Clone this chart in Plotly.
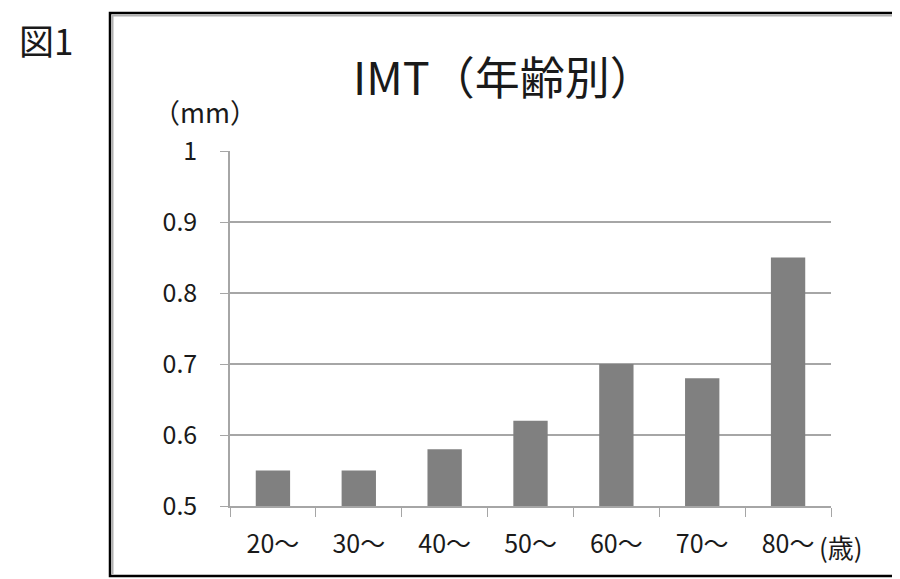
import plotly.graph_objects as go

categories = ["20～", "30～", "40～", "50～", "60～", "70～", "80～"]
imt_values = [0.55, 0.55, 0.58, 0.62, 0.70, 0.68, 0.85]
y_ticks = [0.5, 0.6, 0.7, 0.8, 0.9, 1.0]
y_tick_labels = ["0.5", "0.6", "0.7", "0.8", "0.9", "1"]

FONT = "Noto Sans CJK JP"
GRID = "#a6a6a6"
TXT = "#1a1a1a"

fig = go.Figure(go.Bar(x=categories, y=imt_values, marker_color="#808080",
                       marker_line_width=0, width=0.4))

OFF = 8  # page body margin
W, H = 900 - OFF, 579 - OFF
L, R, T, B = 230, 831, 151, 506  # target page coordinates of plot area

fig.update_layout(
    width=W, height=H,
    margin=dict(l=L - OFF, r=W - (R - OFF), t=T - OFF, b=H - (B - OFF), pad=0),
    paper_bgcolor="white", plot_bgcolor="white",
    font=dict(family=FONT, color=TXT),
    showlegend=False,
)
fig.update_xaxes(
    type="category", tickson="boundaries", ticks="outside", ticklen=9,
    tickcolor=GRID, showline=True, linecolor=GRID, linewidth=1.5,
    showgrid=False, tickfont=dict(size=25, family=FONT, color=TXT), ticklabelstandoff=15,
)
fig.update_yaxes(
    range=[0.5, 1.0], tickvals=y_ticks, ticktext=y_tick_labels,
    ticks="outside", ticklen=8, tickcolor=GRID, showline=True, linecolor=GRID,
    linewidth=1.5, showgrid=True, gridcolor=GRID, gridwidth=1.5,
    tickfont=dict(size=25, family=FONT, color=TXT), ticklabelstandoff=18, zeroline=False,
)

def px(x):
    return (x - L) / (R - L)

def py(y):
    return (B - y) / (B - T)

# outer frame
fig.add_shape(type="rect", xref="paper", yref="paper",
              x0=px(110), x1=px(910), y0=py(576), y1=py(13),
              line=dict(color="black", width=2.5), fillcolor="rgba(0,0,0,0)")
fig.add_shape(type="line", xref="paper", yref="paper",
              x0=px(112), x1=px(910), y0=py(15.5), y1=py(15.5),
              line=dict(color="#b0b0b0", width=2))
fig.add_shape(type="line", xref="paper", yref="paper",
              x0=px(112.5), x1=px(112.5), y0=py(574), y1=py(15),
              line=dict(color="#b0b0b0", width=2))

annos = [
    dict(text="IMT（年齢別）", x=px(504), y=py(75), size=45, anchor="center"),
    dict(text="（mm）", x=px(205), y=py(112), size=27, anchor="center"),
    dict(text="図1", x=px(46), y=py(40), size=35, anchor="center"),
    dict(text="(歳)", x=px(817), y=py(546), size=26, anchor="left"),
]
for a in annos:
    fig.add_annotation(text=a["text"], x=a["x"], y=a["y"], xref="paper", yref="paper",
                       showarrow=False, xanchor=a["anchor"], yanchor="middle",
                       font=dict(size=a["size"], family=FONT, color=TXT))

fig.write_html("out.html")
